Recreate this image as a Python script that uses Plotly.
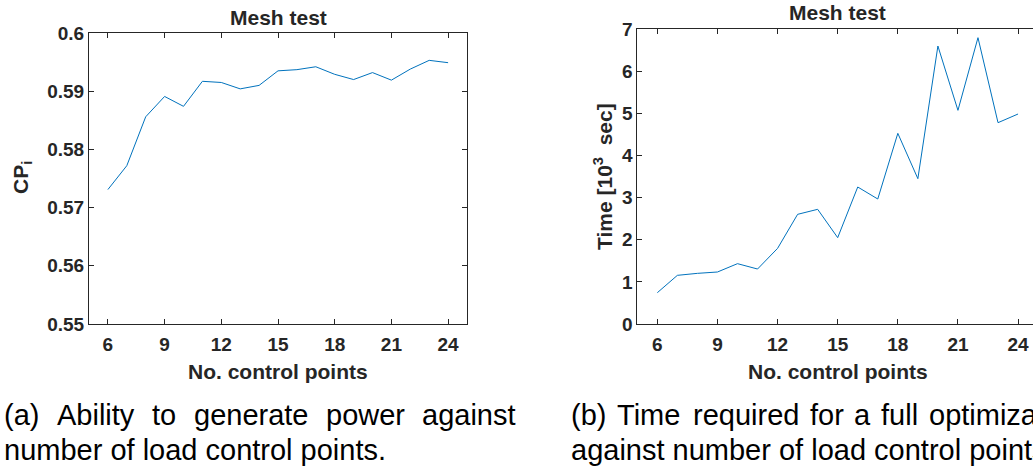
import plotly.graph_objects as go

# ---- data ----
n_control_points = [6, 7, 8, 9, 10, 11, 12, 13, 14, 15, 16, 17, 18, 19, 20, 21, 22, 23, 24]
cp_values = [0.5731, 0.5772, 0.5856, 0.5891, 0.5874, 0.5917, 0.5915, 0.5904, 0.5910, 0.5935,
             0.5937, 0.5942, 0.5929, 0.5920, 0.5932, 0.5919, 0.5938, 0.5953, 0.5949]
time_values = [0.744, 1.156, 1.203, 1.235, 1.433, 1.306, 1.797, 2.605, 2.724, 2.051,
               3.254, 2.969, 4.529, 3.452, 6.603, 5.075, 6.801, 4.782, 4.988]
x_ticks = [6, 9, 12, 15, 18, 21, 24]
cp_ticks = [0.55, 0.56, 0.57, 0.58, 0.59, 0.6]
cp_tick_labels = ["0.55", "0.56", "0.57", "0.58", "0.59", "0.6"]
time_ticks = [0, 1, 2, 3, 4, 5, 6, 7]
time_tick_labels = ["0", "1", "2", "3", "4", "5", "6", "7"]

title_text = "Mesh test"
xlabel_text = "No. control points"
ylabel_left = "CP<sub>i</sub>"
ylabel_right = "Time [10<sup>3</sup>&nbsp; sec]"

caption_a_line1 = ["(a)", "Ability", "to", "generate", "power", "against"]
caption_a_line2 = "number of load control points."
caption_b_line1 = ["(b)", "Time", "required", "for", "a", "full", "optimization"]
caption_b_line2 = "against number of load control points."

# ---- layout helpers (pixels -> paper) ----
W, H = 1033, 470
def px(x):
    return x / W
def py(y):
    return 1 - y / H

FONT = "Liberation Sans, Arial, Helvetica, sans-serif"
AX = "#262626"
LINE = "#0072BD"

axis_common = dict(
    showgrid=False, zeroline=False, showline=True, linecolor=AX, linewidth=1,
    ticks="inside", ticklen=5, tickwidth=1, tickcolor=AX, automargin=False,
    tickfont=dict(family=FONT, size=19, color=AX, weight="bold"),
)

fig = go.Figure()
fig.add_trace(go.Scatter(x=n_control_points, y=cp_values, mode="lines",
                         line=dict(color=LINE, width=1), xaxis="x", yaxis="y",
                         showlegend=False, hoverinfo="skip"))
fig.add_trace(go.Scatter(x=n_control_points, y=time_values, mode="lines",
                         line=dict(color=LINE, width=1), xaxis="x2", yaxis="y2",
                         showlegend=False, hoverinfo="skip"))

right_left_px = 637.3
right_px_per_unit = 20.04
right_xmax = 5 + (W - right_left_px) / right_px_per_unit

fig.update_layout(
    width=W, height=H, margin=dict(l=0, r=0, t=0, b=0, pad=0), autosize=False,
    paper_bgcolor="white", plot_bgcolor="white", showlegend=False,
    xaxis=dict(domain=[px(89), px(467)], range=[5, 25], tickvals=x_ticks,
               mirror="ticks", anchor="y", ticklabelstandoff=3, **axis_common),
    yaxis=dict(domain=[py(324), py(33)], range=[0.55, 0.6], tickvals=cp_ticks,
               ticktext=cp_tick_labels, mirror="ticks", anchor="x", **axis_common),
    xaxis2=dict(domain=[px(right_left_px), 1.0], range=[5, right_xmax], tickvals=x_ticks,
                mirror="ticks", anchor="y2", ticklabelstandoff=3, **axis_common),
    yaxis2=dict(domain=[py(324), py(29.3)], range=[0, 7], tickvals=time_ticks,
                ticktext=time_tick_labels, mirror=False, anchor="x2", **axis_common),
)

ann = []
def add_text(text, x, y, size, bold=False, xanchor="center", angle=0, color=AX):
    ann.append(dict(text=text, x=px(x), y=py(y), xref="paper", yref="paper",
                    xanchor=xanchor, yanchor="middle", showarrow=False, textangle=angle,
                    borderpad=0,
                    font=dict(family=FONT, size=size, color=color,
                              weight="bold" if bold else "normal")))

# titles and axis labels
add_text(title_text, 278, 17, 21, bold=True)
add_text(title_text, 837.5, 13, 21, bold=True)
add_text(xlabel_text, 278, 371, 21, bold=True)
add_text(xlabel_text, 837.5, 371, 21, bold=True)
add_text(ylabel_left, 22, 178, 21, bold=True, angle=-90)
add_text(ylabel_right, 603, 177, 21, bold=True, angle=-90)

# captions (justified first lines: word by word)
cap_size = 29
a_line1_x = [3, 56, 151, 193, 325, 421]
for word, xw in zip(caption_a_line1, a_line1_x):
    add_text(word, xw, 415, cap_size, xanchor="left", color="black")
add_text(caption_a_line2, 3, 450, cap_size, xanchor="left", color="black")

b_line1_x = [570, 616, 692, 809, 853, 880, 928]
for word, xw in zip(caption_b_line1, b_line1_x):
    add_text(word, xw, 415, cap_size, xanchor="left", color="black")
add_text(caption_b_line2, 570, 450, cap_size, xanchor="left", color="black")

fig.update_layout(annotations=ann)

fig.write_html(
    "out.html",
    config={"displayModeBar": False},
    post_script="document.body.style.margin='0';document.body.style.overflow='hidden';",
)
